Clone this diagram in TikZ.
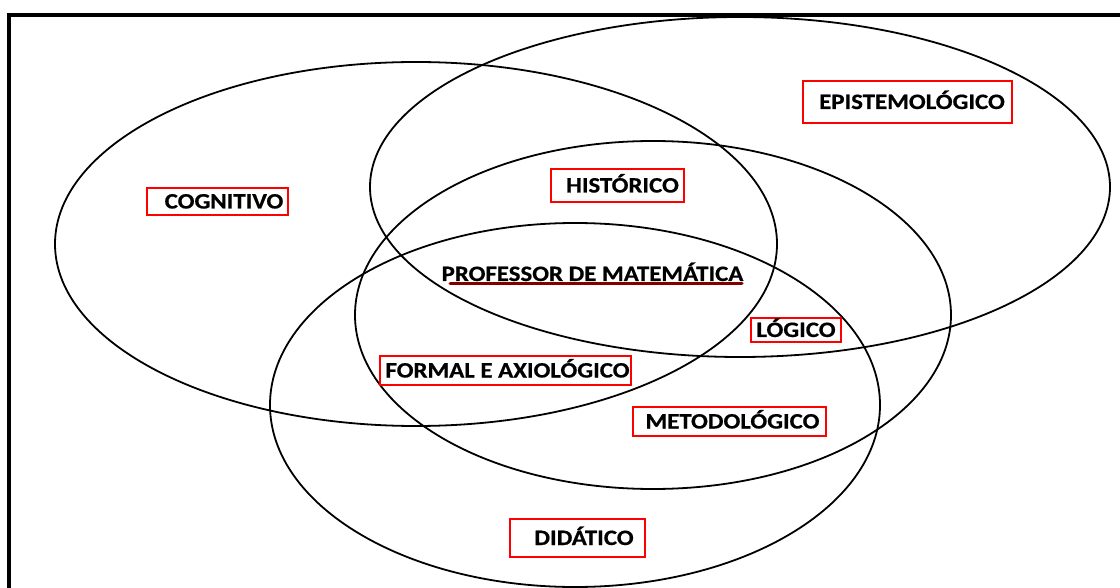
\documentclass[tikz,border=0pt]{standalone}
\usepackage{fontspec}
\newfontfamily\labfont{Carlito}[FakeStretch=1.13,FakeBold=0.6]
\definecolor{darkred}{RGB}{128,0,0}
\begin{document}
\begin{tikzpicture}[x=1pt,y=-1pt,
  ring/.style={draw=black,line width=1.8pt},
  frame/.style={draw=black,line width=4.5pt},
  lbltext/.style={inner sep=0pt,font=\labfont\bfseries\fontsize{22}{22}\selectfont,text height=14pt,text depth=0pt},
  lbl/.style={lbltext,draw=red,line width=2pt}]
\useasboundingbox (0,0) rectangle (1120,588);
\fill[white] (0,0) rectangle (1120,588);
\draw[frame] (9,588) -- (9,15) -- (1120,15);
% ellipses
\draw[ring] (416,244) ellipse [x radius=361, y radius=182];
\draw[ring] (740,187) ellipse [x radius=370, y radius=170];
\draw[ring] (653,315) ellipse [x radius=298, y radius=174];
\draw[ring] (575,405) ellipse [x radius=305, y radius=182];
% labels
\node[lbl,minimum width=209pt,minimum height=42pt] (epi) at (907.5,102) {\hspace*{9pt}EPISTEMOLÓGICO};
\node[lbl,minimum width=141pt,minimum height=27pt] (cog) at (217.5,201.5) {\hspace*{13pt}COGNITIVO};
\node[lbl,minimum width=133pt,minimum height=33pt] (his) at (617.5,185.5) {\hspace*{10pt}HISTÓRICO};
\node[lbl,minimum width=90pt,minimum height=24pt] (log) at (796,330) {LÓGICO};
\node[lbl,minimum width=251pt,minimum height=29pt] (for) at (505.5,370.5) {\hspace*{4pt}FORMAL E AXIOLÓGICO};
\node[lbl,minimum width=193pt,minimum height=29pt] (met) at (729.5,421.5) {\hspace*{6pt}METODOLÓGICO};
\node[lbl,minimum width=135pt,minimum height=38pt] (did) at (577.5,538) {\hspace*{13pt}DIDÁTICO};
\node[lbltext] (prof) at (592.5,274) {PROFESSOR DE MATEMÁTICA};
\draw[darkred,line width=3pt,line cap=round] (450,284) -- (742,284);
\end{tikzpicture}
\end{document}
